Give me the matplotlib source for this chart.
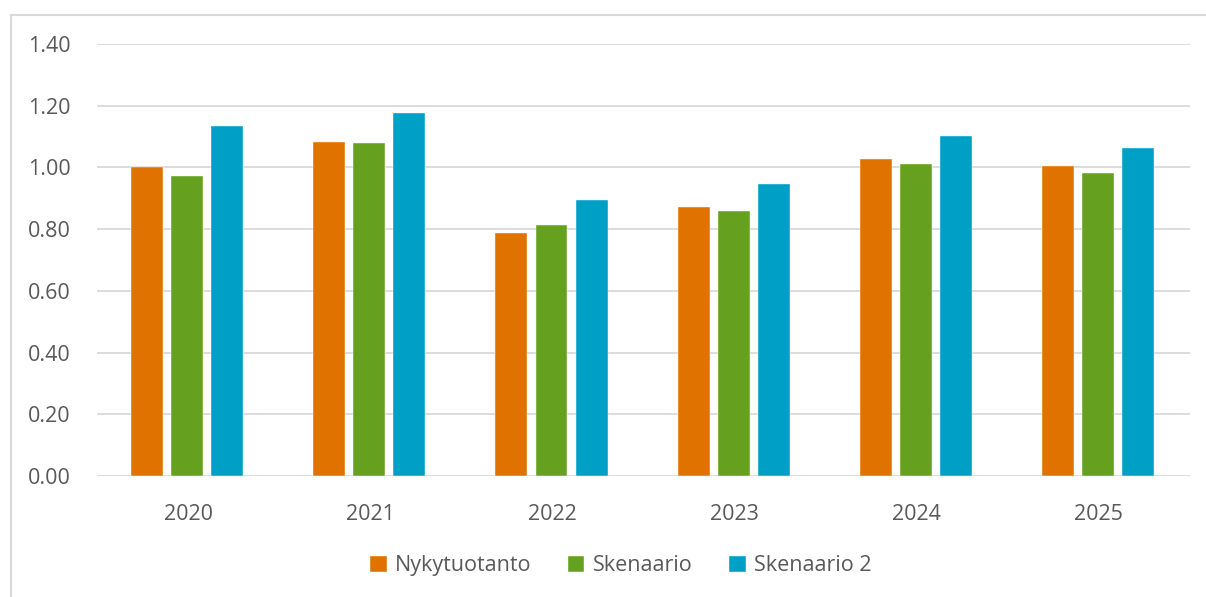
"""Grouped bar chart: Nykytuotanto vs skenaariot 2020-2025."""
import matplotlib
matplotlib.use("Agg")
import matplotlib.pyplot as plt
import numpy as np
from matplotlib.lines import Line2D

years = ["2020", "2021", "2022", "2023", "2024", "2025"]
nykytuotanto = [1.000, 1.082, 0.787, 0.872, 1.027, 1.005]
skenaario = [0.973, 1.079, 0.813, 0.859, 1.011, 0.983]
skenaario2 = [1.134, 1.177, 0.894, 0.946, 1.102, 1.063]

series = [
    ("Nykytuotanto", nykytuotanto, "#E07200"),
    ("Skenaario", skenaario, "#65A11E"),
    ("Skenaario 2", skenaario2, "#00A0C6"),
]

plt.rcParams["font.family"] = ["Open Sans", "DejaVu Sans"]
TXT = "#595959"
GRID = "#D9D9D9"

fig = plt.figure(figsize=(12.06, 5.97), dpi=100)
ax = fig.add_axes([97 / 1206, 1 - 476 / 597, 1093 / 1206, 432 / 597])

x = np.arange(len(years))
width = 0.175
step = 0.22
for i, (name, vals, col) in enumerate(series):
    ax.bar(x + (i - 1) * step - 0.005, vals, width, color=col, label=name,
           edgecolor="white", linewidth=0.3, zorder=3)

ax.set_xlim(-0.5, len(years) - 0.5)
ax.set_ylim(0, 1.4)
ax.set_yticks(np.arange(0, 1.41, 0.2))
ax.set_yticklabels([f"{v:.2f}" for v in np.arange(0, 1.41, 0.2)])
ax.set_xticks(x)
ax.set_xticklabels(years)
ax.grid(axis="y", color=GRID, linewidth=1.3, zorder=0)
for s in ax.spines.values():
    s.set_visible(False)
ax.tick_params(axis="both", length=0, labelsize=15.5, colors=TXT)
ax.tick_params(axis="y", pad=19)
ax.tick_params(axis="x", pad=20)

leg = fig.legend(loc="center", bbox_to_anchor=(0.515, 0.052), ncol=3,
                 frameon=False, fontsize=15.5, handlelength=0.75,
                 handleheight=0.75, handletextpad=0.4, columnspacing=1.7)
for t in leg.get_texts():
    t.set_color(TXT)

# outer frame (only left/top visible in the crop)
fig.add_artist(Line2D([11 / 1206, 11 / 1206], [0, 1 - 15 / 597],
                      transform=fig.transFigure, color=GRID, lw=1.5))
fig.add_artist(Line2D([11 / 1206, 1], [1 - 15 / 597, 1 - 15 / 597],
                      transform=fig.transFigure, color=GRID, lw=1.5))

fig.savefig("out.png", dpi=100)
